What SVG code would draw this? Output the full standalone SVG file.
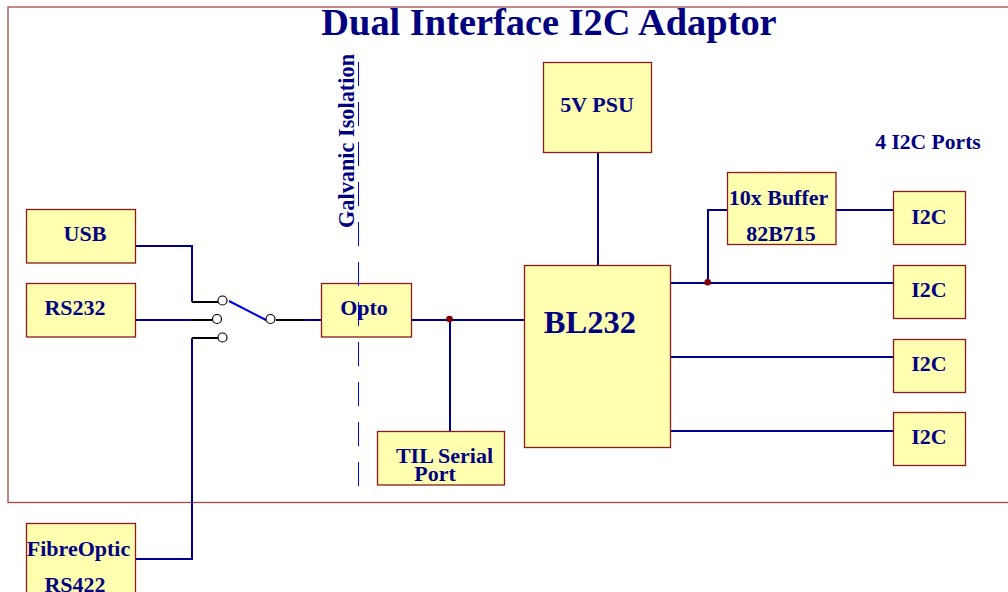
<svg xmlns="http://www.w3.org/2000/svg" width="1008" height="592" viewBox="0 0 1008 592">
<style>
.box{fill:#ffffb0;stroke:#8b1a1a;stroke-width:1.3}
.t{font-family:"Liberation Serif",serif;font-weight:bold;fill:#000080}
.s{font-size:22px}
.w{fill:none;stroke:#000090;stroke-width:2}
.k{fill:none;stroke:#000;stroke-width:2}
.c{fill:#fff;stroke:#000;stroke-width:1.2}
.d{fill:#800000}
</style>
<rect id="frame" x="8" y="7" width="1010" height="495.500" fill="none" stroke="#a84848" stroke-width="1.300"/>
<text id="title" class="t" x="549" y="35" text-anchor="middle" font-size="38.400">Dual Interface I2C Adaptor</text>
<g id="connectors">
<path class="w" d="M136 246H192V302M136 320H192M192 338V559H136M304 320H322M412 320H525M450 320V431M598 153V265M671 283H893M708 283V210H727M836 210H893M671 357H893M671 431H893"/>
<path class="k" d="M192 302H218M192 320H212M192 338H218M276 320H304"/>
<path d="M229 301L266 320" fill="none" stroke="#0000e0" stroke-width="2"/>
<circle class="c" cx="222.500" cy="300.500" r="4.500"/>
<circle class="c" cx="217" cy="319" r="4.500"/>
<circle class="c" cx="222.500" cy="337.500" r="4.500"/>
<circle class="c" cx="270.500" cy="319" r="4.500"/>
<circle class="d" cx="449.500" cy="319" r="3.300"/>
<circle class="d" cx="707.700" cy="282.300" r="3.300"/>
</g>
<g id="usb"><rect class="box" x="26.500" y="209.500" width="109" height="53.500"/><text class="t s" x="85" y="241" text-anchor="middle">USB</text></g>
<g id="rs232"><rect class="box" x="26.500" y="283.500" width="109" height="53.500"/><text class="t s" x="75" y="315" text-anchor="middle">RS232</text></g>
<g id="fibre"><rect class="box" x="26.500" y="523.500" width="109" height="80"/><text class="t s" x="78.500" y="556" text-anchor="middle">FibreOptic</text><text class="t s" x="75" y="592" text-anchor="middle">RS422</text></g>
<g id="opto"><rect class="box" x="321.500" y="283.500" width="90" height="53.500"/><text class="t s" x="364" y="315" text-anchor="middle">Opto</text></g>
<g id="ttl"><rect class="box" x="377.500" y="431.500" width="127" height="53.500"/><text class="t s" x="444.500" y="463" text-anchor="middle">TIL Serial</text><text class="t s" x="435" y="481" text-anchor="middle">Port</text></g>
<g id="psu"><rect class="box" x="543.500" y="62.500" width="108" height="90"/><text class="t s" x="597" y="112" text-anchor="middle">5V PSU</text></g>
<g id="bl232"><rect class="box" x="524.500" y="265.500" width="146" height="182"/><text class="t" x="590" y="333" text-anchor="middle" font-size="32.600">BL232</text></g>
<g id="buffer"><rect class="box" x="727.500" y="172.500" width="108.500" height="72"/><text class="t s" x="778.500" y="205" text-anchor="middle">10x Buffer</text><text class="t s" x="781" y="241" text-anchor="middle">82B715</text></g>
<g id="i2c1"><rect class="box" x="893.500" y="191.500" width="72" height="53"/><text class="t s" x="929" y="224" text-anchor="middle">I2C</text></g>
<g id="i2c2"><rect class="box" x="893.500" y="265.500" width="72" height="53"/><text class="t s" x="929" y="297" text-anchor="middle">I2C</text></g>
<g id="i2c3"><rect class="box" x="893.500" y="339.500" width="72" height="53"/><text class="t s" x="929" y="371" text-anchor="middle">I2C</text></g>
<g id="i2c4"><rect class="box" x="893.500" y="412.500" width="72" height="53"/><text class="t s" x="929" y="444" text-anchor="middle">I2C</text></g>
<text id="ports" class="t" x="928" y="149" text-anchor="middle" font-size="21.600">4 I2C Ports</text>
<text id="iso" class="t" font-size="22.300" transform="translate(353.500 141) rotate(-90)" text-anchor="middle">Galvanic Isolation</text>
<path id="isoline" d="M358.500 62V487" fill="none" stroke="#0000f0" stroke-width="1" stroke-dasharray="24 16"/>
</svg>
